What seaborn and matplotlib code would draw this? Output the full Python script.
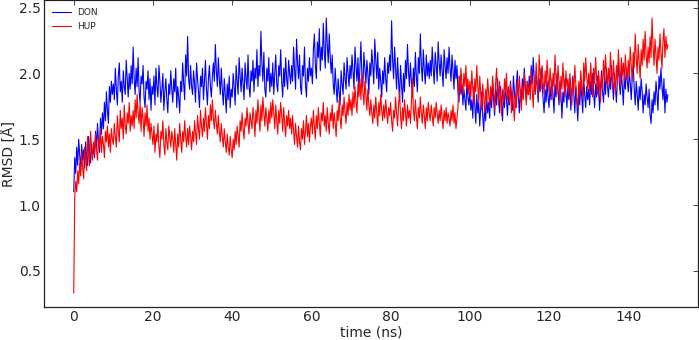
import numpy as np
import pandas as pd
import matplotlib
matplotlib.use("Agg")
import matplotlib.pyplot as plt
import seaborn as sns

# RMSD traces, one value every 0.25 ns (0 .. 150 ns),
# one row = 5 ns
step_ns = 0.25

don_rmsd = [
    1.10, 1.36, 1.24, 1.44, 1.30, 1.50, 1.38, 1.26, 1.46, 1.34, 1.42, 1.28, 1.48, 1.36, 1.30, 1.52, 1.40, 1.32, 1.46, 1.38,
    1.44, 1.36, 1.56, 1.42, 1.62, 1.48, 1.40, 1.66, 1.54, 1.70, 1.58, 1.78, 1.64, 1.86, 1.72, 1.62, 1.90, 1.78, 1.94, 1.84,
    1.92, 1.80, 2.04, 1.88, 1.76, 1.98, 2.08, 1.86, 1.94, 1.78, 2.02, 1.90, 1.84, 2.10, 1.96, 1.82, 2.00, 1.88, 2.06, 1.92,
    2.20, 1.96, 1.84, 2.04, 1.90, 2.12, 1.86, 1.78, 1.98, 1.92, 2.06, 1.82, 1.74, 1.94, 1.88, 2.02, 1.80, 1.96, 1.72, 1.90,
    1.84, 1.98, 1.76, 2.04, 1.90, 1.82, 2.06, 1.94, 1.78, 1.88, 2.00, 1.72, 1.86, 1.96, 1.80, 1.70, 1.92, 1.84, 2.02, 1.88,
    1.78, 1.96, 1.86, 2.04, 1.74, 1.90, 1.82, 1.70, 1.94, 1.86, 2.08, 1.92, 1.80, 2.14, 1.98, 2.28, 1.96, 1.88, 2.06, 1.90,
    1.84, 2.02, 1.92, 1.78, 2.08, 1.96, 1.86, 1.74, 1.98, 1.90, 2.04, 1.80, 1.94, 2.10, 1.88, 1.76, 1.96, 2.06, 1.90, 1.82,
    1.98, 2.08, 1.94, 2.22, 2.02, 1.90, 2.12, 1.96, 1.84, 2.04, 1.88, 1.76, 1.96, 1.84, 1.70, 1.92, 1.80, 1.98, 1.74, 1.88,
    1.82, 2.00, 1.90, 1.76, 2.06, 1.94, 1.84, 2.12, 1.98, 1.86, 2.04, 1.92, 1.80, 2.08, 1.96, 1.88, 2.14, 1.90, 1.82, 2.02,
    1.94, 2.10, 1.86, 2.04, 1.96, 2.18, 1.90, 2.06, 1.98, 2.32, 2.08, 1.94, 2.16, 1.88, 1.82, 2.04, 1.94, 2.12, 1.86, 2.00,
    1.90, 2.08, 1.84, 2.00, 2.14, 1.92, 1.86, 2.06, 1.98, 2.18, 1.94, 1.82, 2.04, 1.90, 2.12, 1.96, 1.88, 2.10, 2.00, 1.92,
    2.06, 1.94, 2.20, 2.02, 1.88, 2.26, 2.08, 1.96, 2.14, 1.90, 1.84, 2.06, 1.98, 2.20, 1.92, 1.82, 2.04, 1.94, 2.12, 1.98,
    2.04, 1.92, 2.18, 2.30, 2.06, 1.96, 2.24, 2.12, 2.34, 2.02, 2.20, 2.10, 2.38, 2.16, 2.04, 2.42, 2.22, 2.08, 2.30, 2.12,
    2.00, 2.14, 1.92, 1.84, 2.04, 1.90, 1.78, 1.96, 1.86, 1.76, 2.02, 1.92, 1.84, 2.08, 1.96, 1.88, 2.12, 2.00, 1.90, 2.06,
    1.96, 2.14, 2.02, 1.88, 2.20, 2.06, 1.94, 2.12, 1.86, 2.04, 2.24, 1.98, 1.90, 2.16, 2.04, 1.92, 2.10, 2.00, 1.84, 2.08,
    1.98, 2.18, 2.06, 1.92, 2.26, 2.10, 1.96, 2.16, 1.88, 2.04, 1.94, 1.82, 2.02, 1.92, 2.12, 1.96, 1.86, 2.08, 2.00, 2.14,
    2.02, 2.40, 2.10, 1.96, 2.20, 2.04, 1.88, 2.12, 1.94, 1.80, 2.06, 1.92, 1.78, 2.00, 1.86, 2.10, 1.96, 2.22, 2.02, 1.90,
    2.08, 1.94, 1.82, 2.04, 1.90, 2.16, 1.98, 1.86, 2.12, 2.00, 2.30, 2.06, 1.94, 2.18, 2.02, 1.92, 2.14, 1.98, 2.08, 1.96,
    2.10, 1.98, 2.20, 2.04, 1.92, 2.16, 2.06, 1.94, 2.24, 2.08, 1.98, 2.14, 2.02, 1.90, 2.18, 2.06, 1.96, 2.12, 2.00, 2.20,
    2.04, 1.94, 2.14, 2.02, 1.88, 2.10, 1.96, 2.06, 1.86, 1.78, 1.98, 1.84, 1.92, 1.76, 1.88, 1.80, 1.72, 1.94, 1.82, 1.76,
    1.86, 1.72, 1.80, 1.66, 1.90, 1.76, 1.62, 1.84, 1.70, 1.78, 1.60, 1.74, 1.86, 1.68, 1.56, 1.76, 1.64, 1.82, 1.70, 1.78,
    1.66, 1.84, 1.74, 1.92, 1.80, 1.68, 1.88, 1.76, 1.96, 1.82, 1.70, 1.90, 1.78, 1.64, 1.86, 1.74, 1.92, 1.80, 1.68, 1.84,
    1.76, 1.94, 1.84, 1.72, 1.98, 1.86, 1.74, 1.92, 2.02, 1.82, 1.70, 1.88, 1.78, 1.96, 1.86, 2.04, 1.90, 1.80, 1.94, 1.84,
    1.98, 1.86, 2.06, 1.92, 2.12, 1.96, 1.84, 2.02, 1.90, 1.78, 1.96, 1.86, 2.04, 1.92, 1.80, 1.70, 1.88, 1.78, 1.94, 1.82,
    1.74, 1.90, 1.80, 1.96, 1.84, 1.70, 1.92, 1.82, 2.00, 1.88, 1.76, 1.94, 1.84, 1.66, 1.86, 1.78, 1.96, 1.86, 1.74, 1.90,
    1.80, 1.94, 1.72, 1.86, 1.98, 1.84, 1.70, 1.90, 1.78, 1.64, 1.86, 1.76, 1.92, 1.82, 1.70, 1.96, 1.84, 1.74, 1.90, 1.80,
    1.88, 1.76, 1.94, 1.84, 2.00, 1.86, 1.74, 1.92, 1.82, 1.98, 1.88, 1.72, 1.90, 2.02, 1.86, 1.78, 1.96, 1.84, 2.04, 1.90,
    1.82, 1.98, 1.88, 2.06, 1.94, 1.80, 2.00, 1.90, 1.78, 1.96, 2.08, 1.92, 1.84, 2.02, 1.90, 1.76, 1.98, 1.88, 2.04, 1.94,
    1.86, 2.02, 1.92, 1.80, 1.98, 2.06, 1.88, 1.76, 1.94, 1.84, 1.72, 1.90, 1.80, 1.96, 1.86, 1.70, 1.84, 1.76, 1.92, 1.82,
    1.74, 1.88, 1.68, 1.62, 1.80, 1.70, 1.86, 1.76, 1.94, 1.84, 1.72, 1.98, 1.88, 2.04, 1.90, 1.80, 1.96, 1.70, 1.88, 1.78,
    1.84,
]

hup_rmsd = [
    0.33, 1.06, 1.18, 1.10, 1.26, 1.16, 1.32, 1.22, 1.40, 1.28, 1.20, 1.44, 1.34, 1.26, 1.52, 1.38, 1.30, 1.56, 1.42, 1.34,
    1.48, 1.38, 1.54, 1.42, 1.34, 1.50, 1.44, 1.58, 1.40, 1.52, 1.46, 1.36, 1.56, 1.48, 1.60, 1.44, 1.54, 1.40, 1.58, 1.50,
    1.46, 1.62, 1.52, 1.44, 1.68, 1.56, 1.48, 1.72, 1.58, 1.66, 1.50, 1.76, 1.60, 1.54, 1.70, 1.62, 1.78, 1.56, 1.68, 1.60,
    1.72, 1.58, 1.80, 1.66, 1.84, 1.70, 1.62, 1.78, 1.56, 1.74, 1.66, 1.52, 1.70, 1.60, 1.76, 1.56, 1.66, 1.50, 1.62, 1.54,
    1.46, 1.60, 1.40, 1.54, 1.48, 1.62, 1.44, 1.36, 1.56, 1.50, 1.64, 1.46, 1.38, 1.58, 1.48, 1.42, 1.60, 1.52, 1.44, 1.56,
    1.50, 1.40, 1.58, 1.46, 1.34, 1.54, 1.44, 1.62, 1.50, 1.40, 1.56, 1.48, 1.64, 1.52, 1.44, 1.58, 1.46, 1.60, 1.52, 1.42,
    1.56, 1.48, 1.64, 1.54, 1.46, 1.68, 1.58, 1.50, 1.72, 1.60, 1.52, 1.66, 1.56, 1.74, 1.62, 1.50, 1.68, 1.58, 1.76, 1.64,
    1.80, 1.66, 1.58, 1.72, 1.62, 1.54, 1.68, 1.56, 1.48, 1.62, 1.52, 1.44, 1.58, 1.48, 1.40, 1.54, 1.44, 1.38, 1.52, 1.42,
    1.36, 1.50, 1.42, 1.56, 1.46, 1.60, 1.52, 1.44, 1.64, 1.56, 1.70, 1.58, 1.50, 1.66, 1.60, 1.74, 1.62, 1.54, 1.70, 1.64,
    1.58, 1.74, 1.66, 1.52, 1.72, 1.62, 1.80, 1.68, 1.56, 1.76, 1.64, 1.82, 1.70, 1.60, 1.74, 1.66, 1.56, 1.72, 1.62, 1.78,
    1.66, 1.80, 1.70, 1.58, 1.76, 1.64, 1.54, 1.72, 1.62, 1.78, 1.68, 1.56, 1.74, 1.62, 1.52, 1.68, 1.60, 1.72, 1.58, 1.66,
    1.54, 1.68, 1.56, 1.46, 1.62, 1.52, 1.44, 1.60, 1.48, 1.42, 1.58, 1.50, 1.64, 1.46, 1.56, 1.68, 1.52, 1.62, 1.48, 1.60,
    1.66, 1.54, 1.72, 1.60, 1.50, 1.68, 1.58, 1.74, 1.62, 1.52, 1.70, 1.64, 1.78, 1.60, 1.68, 1.56, 1.74, 1.62, 1.54, 1.70,
    1.64, 1.76, 1.58, 1.70, 1.62, 1.52, 1.72, 1.64, 1.80, 1.66, 1.58, 1.76, 1.68, 1.82, 1.70, 1.62, 1.78, 1.68, 1.84, 1.72,
    1.80, 1.68, 1.86, 1.74, 1.90, 1.78, 1.70, 1.92, 1.82, 1.96, 1.80, 2.00, 1.86, 1.76, 1.94, 1.84, 1.72, 1.88, 1.76, 1.68,
    1.80, 1.70, 1.62, 1.76, 1.66, 1.82, 1.70, 1.60, 1.78, 1.68, 1.84, 1.72, 1.64, 1.76, 1.66, 1.80, 1.70, 1.62, 1.74, 1.68,
    1.78, 1.64, 1.56, 1.72, 1.66, 1.82, 1.70, 1.60, 1.76, 1.86, 1.68, 1.58, 1.74, 1.64, 1.80, 1.70, 1.60, 1.76, 1.66, 1.72,
    1.62, 1.78, 1.96, 1.72, 1.64, 1.80, 1.68, 1.58, 1.74, 1.66, 1.82, 1.70, 1.62, 1.76, 1.68, 1.58, 1.74, 1.64, 1.78, 1.70,
    1.64, 1.76, 1.68, 1.60, 1.74, 1.66, 1.78, 1.70, 1.62, 1.72, 1.64, 1.76, 1.66, 1.58, 1.72, 1.64, 1.74, 1.62, 1.70, 1.66,
    1.60, 1.72, 1.64, 1.76, 1.62, 1.70, 1.58, 1.66, 1.74, 1.98, 1.86, 2.04, 1.92, 1.84, 2.00, 1.90, 2.06, 1.88, 1.96, 1.84,
    1.94, 1.82, 2.02, 1.88, 1.76, 1.96, 1.86, 2.06, 1.90, 1.78, 1.98, 1.84, 1.72, 1.92, 1.82, 1.70, 1.88, 1.78, 1.96, 1.84,
    1.74, 1.90, 1.80, 1.98, 1.86, 1.72, 1.92, 2.04, 1.84, 1.76, 1.94, 1.82, 1.68, 1.88, 1.78, 1.96, 1.86, 2.00, 1.80, 1.90,
    1.78, 1.92, 1.70, 1.86, 1.76, 1.64, 1.84, 1.74, 1.94, 1.82, 1.98, 1.86, 1.72, 1.90, 1.80, 2.00, 1.88, 1.76, 1.94, 1.84,
    1.92, 1.80, 2.02, 1.88, 1.74, 1.96, 1.86, 2.08, 1.92, 1.82, 2.14, 1.98, 1.88, 2.06, 1.94, 1.84, 2.02, 1.90, 2.10, 1.96,
    1.86, 2.04, 1.92, 1.80, 2.00, 1.90, 2.14, 1.96, 1.84, 2.06, 1.94, 1.78, 1.98, 1.88, 2.08, 1.92, 1.82, 2.02, 1.90, 1.96,
    1.84, 2.00, 1.90, 1.76, 1.96, 1.86, 2.06, 1.92, 1.80, 1.74, 1.94, 1.84, 2.02, 1.90, 1.82, 2.08, 1.94, 2.12, 1.98, 1.88,
    2.00, 1.86, 2.08, 1.94, 1.82, 2.04, 1.92, 2.12, 1.96, 1.84, 2.02, 1.90, 1.78, 1.98, 1.88, 2.10, 1.94, 2.14, 2.00, 1.90,
    2.04, 1.92, 2.16, 2.00, 1.88, 2.10, 1.96, 1.84, 2.06, 1.94, 2.18, 2.02, 1.90, 2.12, 1.98, 2.08, 1.94, 2.14, 2.02, 1.96,
    2.10, 1.98, 2.20, 2.06, 1.94, 2.16, 2.04, 2.30, 2.12, 2.00, 2.22, 2.08, 1.96, 2.18, 2.06, 2.26, 2.10, 2.32, 2.14, 2.04,
    2.20, 2.08, 2.28, 2.12, 2.42, 2.22, 2.06, 2.26, 2.14, 2.00, 2.20, 2.10, 2.30, 2.16, 2.04, 2.24, 2.34, 2.12, 2.28, 2.18,
    2.22,
]

# long-form table for seaborn
df = pd.concat([
    pd.DataFrame({"time": np.arange(len(don_rmsd)) * step_ns, "rmsd": don_rmsd, "system": "DON"}),
    pd.DataFrame({"time": np.arange(len(hup_rmsd)) * step_ns, "rmsd": hup_rmsd, "system": "HUP"}),
])

sns.set_style("white")
plt.rcParams["font.family"] = ["DejaVu Sans"]

fig = plt.figure(figsize=(6.99, 3.40), dpi=100)
ax = fig.add_axes([0.063, 0.097, 0.935, 0.902])

sns.lineplot(data=df, x="time", y="rmsd", hue="system",
             palette={"DON": "blue", "HUP": "red"},
             estimator=None, sort=False, linewidth=0.8, ax=ax)

ax.set_xlim(-7.5, 157.5)
ax.set_ylim(0.225, 2.555)
ax.set_xticks([0, 20, 40, 60, 80, 100, 120, 140])
ax.set_yticks([0.5, 1.0, 1.5, 2.0, 2.5])
ax.set_xlabel("time (ns)", fontsize=10, labelpad=0.5)
ax.set_ylabel("RMSD [Å]", fontsize=10, labelpad=1.5)
ax.tick_params(direction="in", length=3.5, width=0.6, labelsize=10,
               top=True, right=True, pad=2.5)
for side in ax.spines.values():
    side.set_color("#222222")
    side.set_linewidth(0.9)

ax.legend(loc="upper left", frameon=False, fontsize=6.5,
          handlelength=2.1, handletextpad=0.7, labelspacing=0.55,
          borderaxespad=0.5)

fig.savefig("out.png", dpi=100)
